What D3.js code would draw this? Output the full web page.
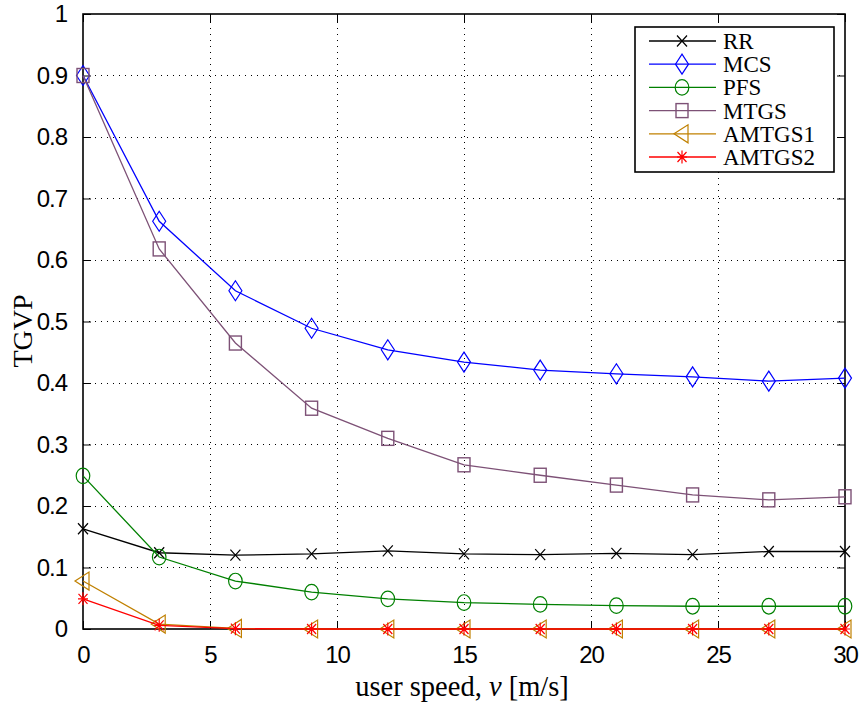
<!DOCTYPE html>
<html><head><meta charset="utf-8">
<script src="https://cdn.jsdelivr.net/npm/d3@7"></script>
<style>body{margin:0;background:#fff}svg{display:block}</style>
</head><body>
<svg id="c" width="859" height="706"></svg>
<script>
const speeds = [0, 3, 6, 9, 12, 15, 18, 21, 24, 27, 30];
const seriesNames = ["RR", "MCS", "PFS", "MTGS", "AMTGS1", "AMTGS2"];
const rrValues     = [0.163, 0.124, 0.120, 0.122, 0.127, 0.122, 0.121, 0.123, 0.121, 0.126, 0.126];
const mcsValues    = [0.900, 0.663, 0.550, 0.489, 0.454, 0.434, 0.421, 0.415, 0.410, 0.403, 0.408];
const pfsValues    = [0.249, 0.117, 0.078, 0.060, 0.049, 0.043, 0.040, 0.038, 0.037, 0.037, 0.037];
const mtgsValues   = [0.900, 0.618, 0.465, 0.359, 0.310, 0.267, 0.250, 0.234, 0.218, 0.210, 0.215];
const amtgs1Values = [0.078, 0.008, 0.001, 0, 0, 0, 0, 0, 0, 0, 0];
const amtgs2Values = [0.049, 0.006, 0.0005, 0, 0, 0, 0, 0, 0, 0, 0];
const xTicks = [0, 5, 10, 15, 20, 25, 30];
const yTicks = [0, 0.1, 0.2, 0.3, 0.4, 0.5, 0.6, 0.7, 0.8, 0.9, 1];
const yTickLabels = ["0", "0.1", "0.2", "0.3", "0.4", "0.5", "0.6", "0.7", "0.8", "0.9", "1"];

const colors = ["#000000", "#0000ff", "#008000", "#7d5176", "#c08000", "#ff0000"];
const markers = ["x", "diamond", "circle", "square", "triangleLeft", "asterisk"];
const allValues = [rrValues, mcsValues, pfsValues, mtgsValues, amtgs1Values, amtgs2Values];

const L = 83, R = 845, T = 14, B = 629;
const x = d3.scaleLinear().domain([0, 30]).range([L, R]);
const y = d3.scaleLinear().domain([0, 1]).range([B, T]);
const svg = d3.select("#c");

// grid
const grid = svg.append("g");
xTicks.filter(t => t > 0 && t < 30).forEach(t => {
  grid.append("line").attr("x1", x(t)).attr("x2", x(t)).attr("y1", B).attr("y2", T)
    .attr("stroke", "#000").attr("stroke-width", 1).attr("stroke-dasharray", "1,5").attr("shape-rendering","crispEdges");
});
yTicks.filter(t => t > 0 && t < 1).forEach(t => {
  grid.append("line").attr("x1", L).attr("x2", R).attr("y1", y(t)).attr("y2", y(t))
    .attr("stroke", "#000").attr("stroke-width", 1).attr("stroke-dasharray", "1,5").attr("shape-rendering","crispEdges");
});

// axes with inward ticks
const tickFont = "'Liberation Sans', Arial, sans-serif";
const xAxisB = d3.axisBottom(x).tickValues(xTicks).tickSize(-8).tickPadding(17).tickFormat(d3.format("d"));
const xAxisT = d3.axisTop(x).tickValues(xTicks).tickSize(-8).tickFormat("");
const yAxisL = d3.axisLeft(y).tickValues(yTicks).tickSize(-8).tickPadding(16).tickFormat((d, i) => yTickLabels[i]);
const yAxisR = d3.axisRight(y).tickValues(yTicks).tickSize(-8).tickFormat("");
function style(g) {
  g.select(".domain").remove();
  g.selectAll(".tick line").attr("stroke", "#000").attr("stroke-width", 1);
  g.selectAll("text").attr("fill", "#000").style("font-family", tickFont).style("font-size", "24px");
}
svg.append("g").attr("transform", `translate(0,${B})`).call(xAxisB).call(style);
svg.append("g").attr("transform", `translate(0,${T})`).call(xAxisT).call(style);
svg.append("g").attr("transform", `translate(${L},0)`).call(yAxisL).call(style);
svg.append("g").attr("transform", `translate(${R},0)`).call(yAxisR).call(style);
svg.selectAll("g.tick text").attr("letter-spacing", "-1px");

// frame
svg.append("rect").attr("x", L).attr("y", T).attr("width", R - L).attr("height", B - T)
  .attr("fill", "none").attr("stroke", "#000").attr("stroke-width", 1.6);

// markers
function drawMarker(g, type, cx, cy, color) {
  if (type === "x") {
    g.append("path").attr("d", `M${cx-5},${cy-5.5}L${cx+5},${cy+5.5}M${cx-5},${cy+5.5}L${cx+5},${cy-5.5}`)
      .attr("stroke", color).attr("stroke-width", 1.2).attr("fill", "none");
  } else if (type === "diamond") {
    g.append("path").attr("d", `M${cx},${cy-10}L${cx+6.5},${cy}L${cx},${cy+10}L${cx-6.5},${cy}Z`)
      .attr("stroke", color).attr("stroke-width", 1.2).attr("fill", "none");
  } else if (type === "circle") {
    g.append("ellipse").attr("cx", cx).attr("cy", cy).attr("rx", 6.8).attr("ry", 7.8)
      .attr("stroke", color).attr("stroke-width", 1.2).attr("fill", "none");
  } else if (type === "square") {
    g.append("rect").attr("x", cx - 6).attr("y", cy - 7).attr("width", 12).attr("height", 14)
      .attr("stroke", color).attr("stroke-width", 1.4).attr("fill", "none");
  } else if (type === "triangleLeft") {
    g.append("path").attr("d", `M${cx-8},${cy}L${cx+6},${cy-9}L${cx+6},${cy+9}Z`)
      .attr("stroke", color).attr("stroke-width", 1.2).attr("fill", "none");
  } else if (type === "asterisk") {
    g.append("path").attr("d",
      `M${cx},${cy-6.5}L${cx},${cy+6.5}M${cx-5},${cy}L${cx+5},${cy}M${cx-4.5},${cy-5}L${cx+4.5},${cy+5}M${cx-4.5},${cy+5}L${cx+4.5},${cy-5}`)
      .attr("stroke", color).attr("stroke-width", 1.2).attr("fill", "none");
  }
}

const line = d3.line().x(d => x(d[0])).y(d => y(d[1]));
allValues.forEach((vals, si) => {
  const g = svg.append("g");
  const pts = speeds.map((s, i) => [s, vals[i]]);
  g.append("path").attr("d", line(pts)).attr("fill", "none").attr("stroke", colors[si]).attr("stroke-width", 1.3);
  pts.forEach(p => drawMarker(g, markers[si], x(p[0]), y(p[1]), colors[si]));
});

// legend
const lg = svg.append("g");
lg.append("rect").attr("x", 635).attr("y", 27).attr("width", 199).attr("height", 145)
  .attr("fill", "#fff").attr("stroke", "#000").attr("stroke-width", 1.6);
seriesNames.forEach((name, i) => {
  const cy = 41 + i * 23.2;
  lg.append("line").attr("x1", 649).attr("x2", 716).attr("y1", cy).attr("y2", cy)
    .attr("stroke", colors[i]).attr("stroke-width", 1.3);
  drawMarker(lg, markers[i], 682, cy, colors[i]);
  lg.append("text").attr("x", 723).attr("y", cy + 8).text(name)
    .style("font-family", "'Liberation Serif', 'Times New Roman', serif").style("font-size", "23px").attr("fill", "#000");
});

// axis titles
svg.append("text").attr("x", 462).attr("y", 696).attr("text-anchor", "middle")
  .style("font-family", "'Liberation Serif', 'Times New Roman', serif").style("font-size", "28.5px").attr("fill", "#000")
  .html("user speed, <tspan font-style='italic'>v</tspan> [m/s]");
svg.append("text").attr("transform", "translate(32,331) rotate(-90)").attr("text-anchor", "middle")
  .style("font-family", "'Liberation Serif', 'Times New Roman', serif").style("font-size", "28px").attr("fill", "#000")
  .text("TGVP");
</script>
</body></html>
